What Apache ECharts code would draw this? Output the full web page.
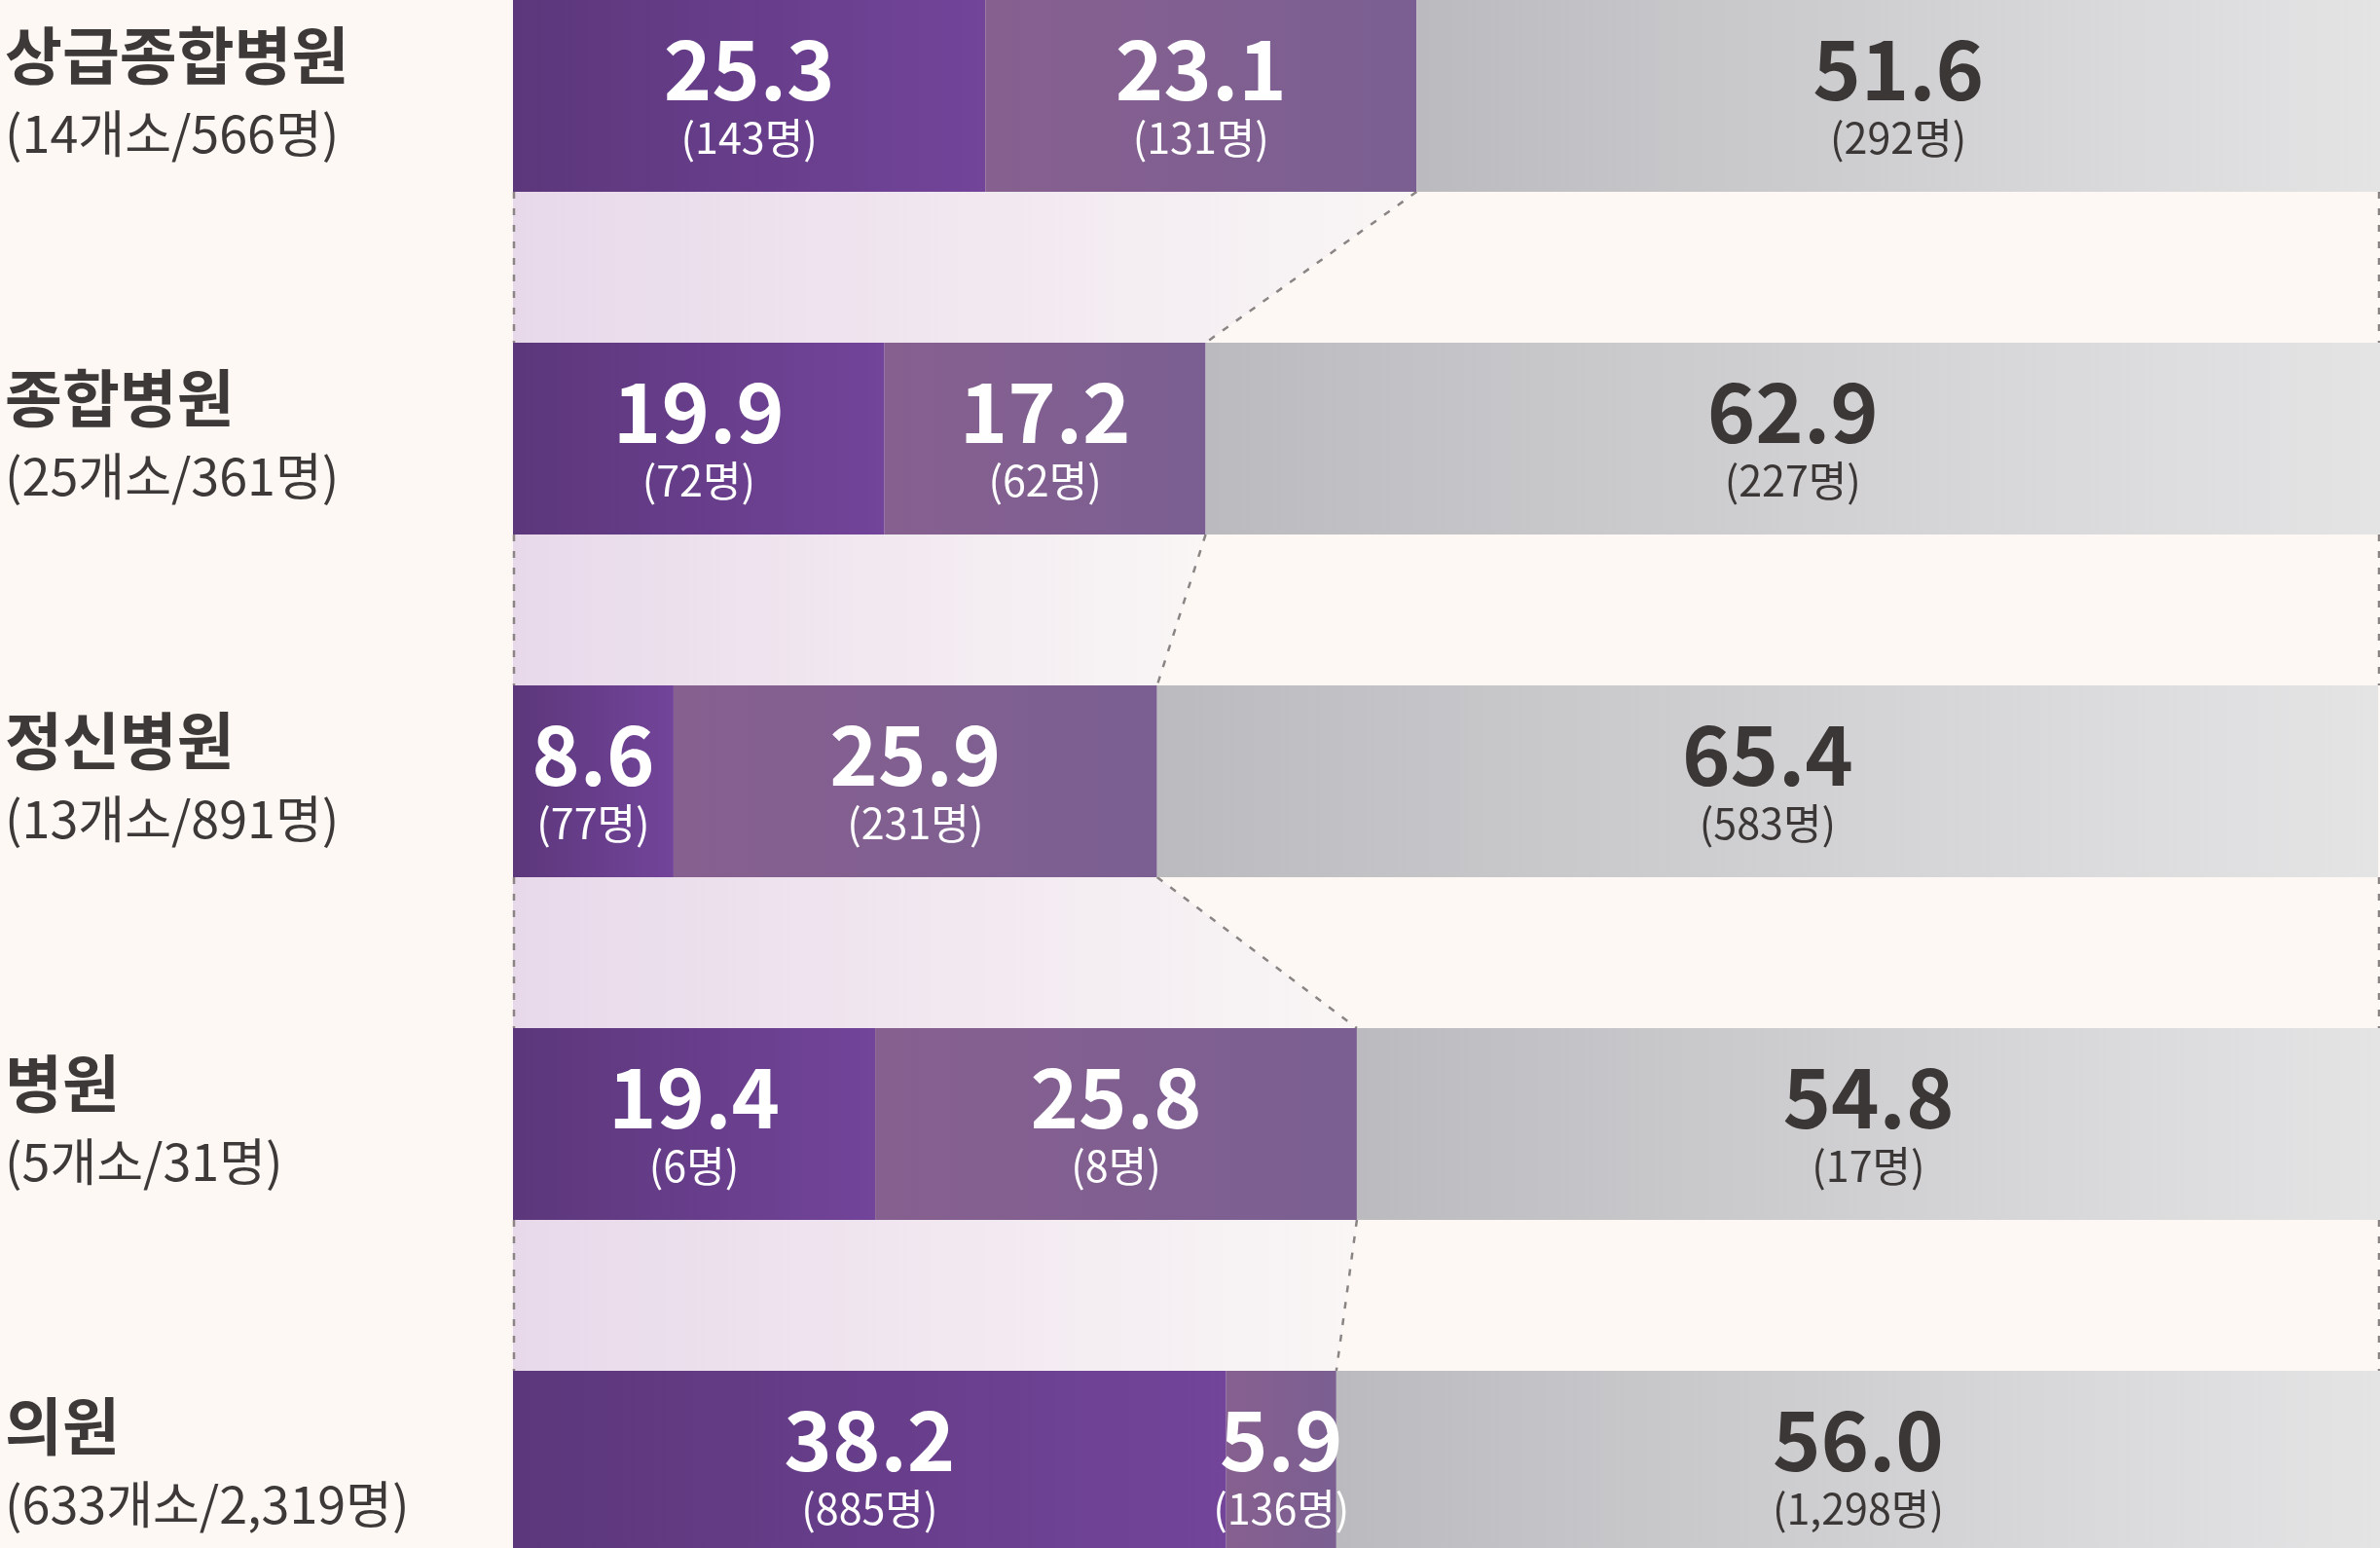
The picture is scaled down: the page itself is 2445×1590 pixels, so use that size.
<!DOCTYPE html>
<html>
<head>
<meta charset="utf-8">
<script src="https://cdn.jsdelivr.net/npm/echarts@6/dist/echarts.min.js"></script>
<style>
  html, body { margin: 0; padding: 0; background: #fdf8f4; }
  #main { width: 2445px; height: 1590px; }
</style>
</head>
<body>
<div id="main"></div>
<script>
"use strict";

// 기관 유형
var categories = ['상급종합병원', '종합병원', '정신병원', '병원', '의원'];
var facilityCount = [14, 25, 13, 5, 633];
var staffTotal = [566, 361, 891, 31, 2319];

// 비율(%)
var pct1 = [25.3, 19.9, 8.6, 19.4, 38.2];
var pct2 = [23.1, 17.2, 25.9, 25.8, 5.9];
var pct3 = [51.6, 62.9, 65.4, 54.8, 56.0];

// 인원(명)
var cnt1 = [143, 72, 77, 6, 885];
var cnt2 = [131, 62, 231, 8, 136];
var cnt3 = [292, 227, 583, 17, 1298];

var FONT = 'Noto Sans CJK KR';
var BAR_W = 197;

function fmt(n) {
    return String(n).replace(/\B(?=(\d{3})+(?!\d))/g, ',');
}

function grad(c1, c2) {
    return new echarts.graphic.LinearGradient(0, 0, 1, 0, [
        {offset: 0, color: c1},
        {offset: 1, color: c2}
    ]);
}

function barLabel(pcts, cnts, color) {
    return {
        show: true,
        position: 'inside',
        offset: [0, 8],
        formatter: function (p) {
            return '{a|' + pcts[p.dataIndex].toFixed(1) + '}\n{b|(' + fmt(cnts[p.dataIndex]) + '명)}';
        },
        rich: {
            a: {fontFamily: FONT, fontWeight: 'bold', fontSize: 84, color: color, lineHeight: 70, align: 'center'},
            b: {fontFamily: FONT, fontSize: 43, color: color, lineHeight: 70, align: 'center'}
        }
    };
}

// 연결 구간 (두 번째 구간 끝 위치)
var joins = [];
for (var i = 0; i < categories.length - 1; i++) {
    joins.push([pct1[i] + pct2[i], pct1[i + 1] + pct2[i + 1], i]);
}

var myChart = echarts.init(document.getElementById('main'));

var option = {
    backgroundColor: '#fdf8f4',
    animation: false,
    grid: {left: 527, right: 0, top: -77.5, bottom: -92.5, outerBoundsMode: 'none', containLabel: false},
    xAxis: {
        type: 'value',
        min: 0,
        max: 100,
        show: false
    },
    yAxis: {
        type: 'category',
        inverse: true,
        data: categories,
        axisLine: {show: false},
        axisTick: {show: false},
        splitLine: {show: false},
        axisLabel: {
            align: 'left',
            margin: 522,
            formatter: function (v, idx) {
                return '{t|' + v + '}\n{s|(' + facilityCount[idx] + '개소/' + fmt(staffTotal[idx]) + '명)}';
            },
            rich: {
                t: {fontFamily: FONT, fontWeight: 'bold', fontSize: 64, color: '#3d3938', lineHeight: 78},
                s: {fontFamily: FONT, fontSize: 52, color: '#3d3938', lineHeight: 84}
            }
        }
    },
    series: [
        {
            type: 'custom',
            silent: true,
            z: 1,
            data: joins,
            renderItem: function (params, api) {
                var idx = api.value(2);
                var c0 = api.coord([0, idx]);
                var c1 = api.coord([0, idx + 1]);
                var yTop = c0[1] + BAR_W / 2;
                var yBot = c1[1] - BAR_W / 2;
                var x0 = c0[0];
                var xa = api.coord([api.value(0), idx])[0];
                var xb = api.coord([api.value(1), idx + 1])[0];
                var xR = api.coord([100, idx])[0] - 1;
                var dash = {stroke: '#8a8584', lineWidth: 2.5, lineDash: [7, 10]};
                return {
                    type: 'group',
                    children: [
                        {
                            type: 'polygon',
                            shape: {points: [[x0, yTop], [xa, yTop], [xb, yBot], [x0, yBot]]},
                            style: {fill: grad('#e8d9ea', '#f9f6f5')}
                        },
                        {type: 'line', shape: {x1: x0 + 1, y1: yTop, x2: x0 + 1, y2: yBot}, style: dash},
                        {type: 'line', shape: {x1: xa, y1: yTop, x2: xb, y2: yBot}, style: dash},
                        {type: 'line', shape: {x1: xR, y1: yTop, x2: xR, y2: yBot}, style: dash}
                    ]
                };
            }
        },
        {
            name: 'a',
            type: 'bar',
            stack: 'all',
            barWidth: BAR_W,
            data: pct1,
            itemStyle: {color: grad('#5c377b', '#72449a')},
            label: barLabel(pct1, cnt1, '#ffffff')
        },
        {
            name: 'b',
            type: 'bar',
            stack: 'all',
            barWidth: BAR_W,
            data: pct2,
            itemStyle: {color: grad('#86608f', '#7b5f92')},
            label: barLabel(pct2, cnt2, '#ffffff')
        },
        {
            name: 'c',
            type: 'bar',
            stack: 'all',
            barWidth: BAR_W,
            data: pct3,
            itemStyle: {color: grad('#bbbabe', '#e5e4e5')},
            label: barLabel(pct3, cnt3, '#3b3736')
        }
    ]
};

myChart.setOption(option);
</script>
</body>
</html>
